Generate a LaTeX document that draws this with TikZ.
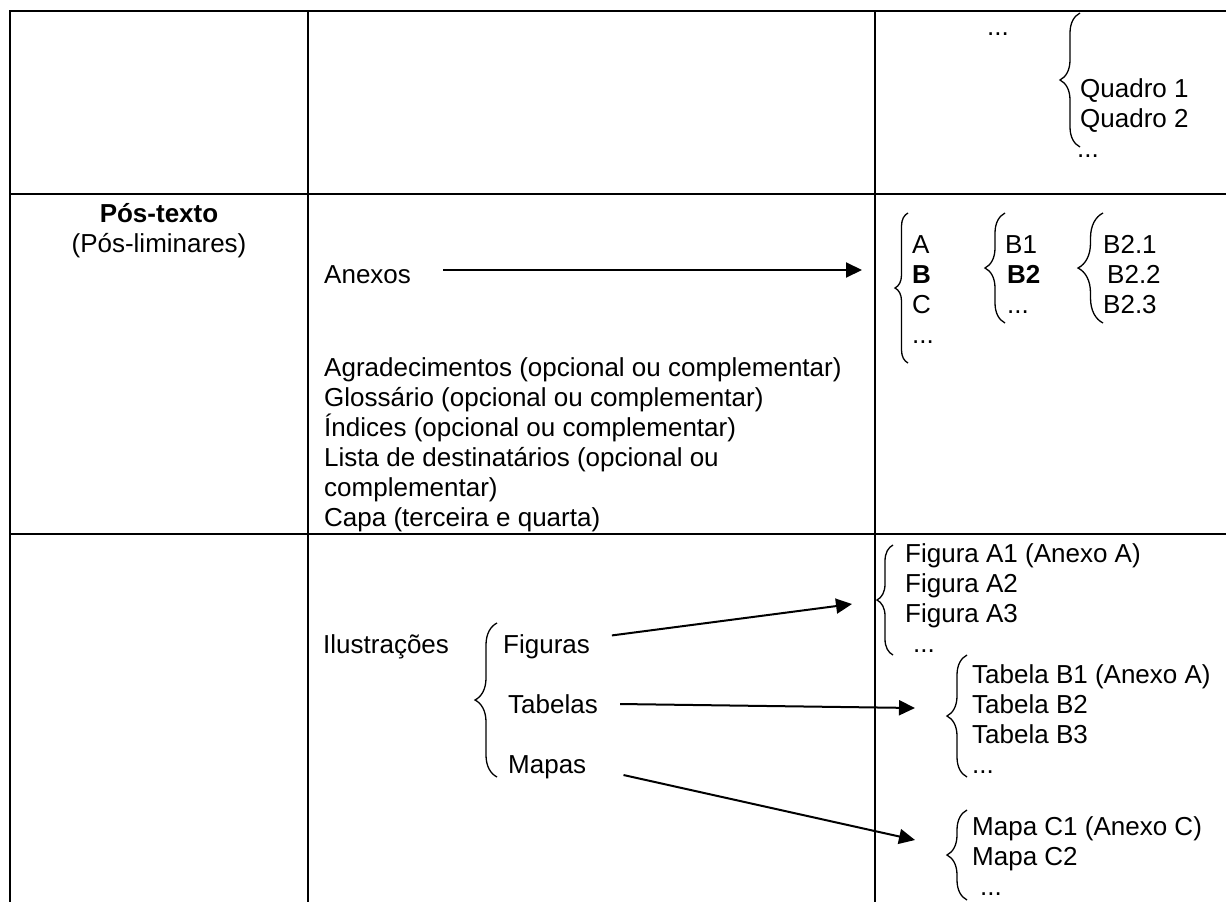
\documentclass[tikz,border=0pt]{standalone}
\usepackage{fontspec}
\setmainfont{Liberation Sans}
\usetikzlibrary{arrows.meta, positioning, decorations.pathreplacing}

\tikzset{
  rule/.style={line width=2pt},
  lbl/.style={inner sep=0pt, anchor=base west},
  curly/.style={decorate, decoration={brace, amplitude=#1}, line width=1.3pt},
  arr/.style={-{Triangle[length=16pt, width=15pt]}, line width=2pt},
}

\begin{document}
\begin{tikzpicture}[x=1pt, y=-1pt, node distance=30pt, font=\fontsize{26}{30}\selectfont]
    \useasboundingbox (0,0) rectangle (1226,902);

    % table
    \draw[rule] (10,902) -- (10,11) -- (1226,11);
    \draw[rule] (10,194) -- (1226,194);
    \draw[rule] (10,534) -- (1226,534);
    \draw[rule] (308,11) -- (308,902);
    \draw[rule] (875,11) -- (875,902);

    % row 1
    \node[lbl] (topdots) at (987,35) {...};
    \draw[curly=20pt] (1080,147) -- (1080,13);
    \node[lbl] (q1) at (1080,97) {Quadro 1};
    \node[lbl, below=of q1.base west, anchor=base west] (q2) {Quadro 2};
    \node[lbl, below=of q2.base west, anchor=base west, xshift=-3pt] (qdots) {...};

    % row 2
    \node[inner sep=0pt, anchor=base] (pos) at (159,222) {\textbf{Pós-texto}};
    \node[inner sep=0pt, below=of pos.base, anchor=base] (posl) {(Pós-liminares)};

    \node[lbl] (anx) at (324,283) {Anexos};
    \coordinate (anxtip) at (862,270);

    \node[lbl] (agr) at (324,376) {Agradecimentos (opcional ou complementar)};
    \node[lbl, below=of agr.base west, anchor=base west] (glo) {Glossário (opcional ou complementar)};
    \node[lbl, below=of glo.base west, anchor=base west] (ind) {Índices (opcional ou complementar)};
    \node[lbl, below=of ind.base west, anchor=base west] (lis) {Lista de destinatários (opcional ou};
    \node[lbl, below=of lis.base west, anchor=base west] (lis2) {complementar)};
    \node[lbl, below=of lis2.base west, anchor=base west] (capa) {Capa (terceira e quarta)};

    \draw[curly=13pt] (908,363) -- (908,213);
    \node[lbl] (la) at (912,253) {A};
    \node[lbl, below=of la.base west, anchor=base west] (lb) {\textbf{B}};
    \node[lbl, below=of lb.base west, anchor=base west] (lc) {C};
    \node[lbl, below=of lc.base west, anchor=base west] (ldots) {...};

    \draw[curly=20pt] (1005,323) -- (1005,213);
    \node[lbl] (b1) at (1005,253) {B1};
    \node[lbl, below=of b1.base west, anchor=base west, xshift=2pt] (b2) {\textbf{B2}};
    \node[lbl, below=of b2.base west, anchor=base west] (bdots) {...};

    \draw[curly=25pt] (1103,323) -- (1103,213);
    \node[lbl] (b21) at (1103,253) {B2.1};
    \node[lbl, below=of b21.base west, anchor=base west, xshift=4pt] (b22) {B2.2};
    \node[lbl, below=of b22.base west, anchor=base west, xshift=-4pt] (b23) {B2.3};

    % row 3
    \node[lbl] (ilu) at (323,653) {Ilustrações};
    \draw[curly=22pt] (497,777) -- (497,623);
    \node[lbl] (figs) at (503,653) {Figuras};
    \node[lbl] (tabs) at (508,713) {Tabelas};
    \node[lbl] (maps) at (508,773) {Mapas};

    \draw[curly=16pt] (893,655) -- (893,545);
    \node[lbl] (fa1) at (905,562) {Figura A1 (Anexo A)};
    \node[lbl, below=of fa1.base west, anchor=base west] (fa2) {Figura A2};
    \node[lbl, below=of fa2.base west, anchor=base west] (fa3) {Figura A3};
    \node[lbl, below=of fa3.base west, anchor=base west, xshift=8pt] (fdots) {...};
    \coordinate (figtip) at (852,604);

    \draw[curly=20pt] (967,777) -- (967,655);
    \node[lbl] (tb1) at (972,683) {Tabela B1 (Anexo A)};
    \node[lbl, below=of tb1.base west, anchor=base west] (tb2) {Tabela B2};
    \node[lbl, below=of tb2.base west, anchor=base west] (tb3) {Tabela B3};
    \node[lbl, below=of tb3.base west, anchor=base west] (tdots) {...};
    \coordinate (tabtip) at (915,708);

    \draw[curly=20pt] (967,900) -- (967,810);
    \node[lbl] (mc1) at (972,835) {Mapa C1 (Anexo C)};
    \node[lbl, below=of mc1.base west, anchor=base west] (mc2) {Mapa C2};
    \node[lbl, below=of mc2.base west, anchor=base west, xshift=8pt] (mdots) {...};
    \coordinate (maptip) at (915,840);

    % arrows
    \path[arr]
        (anx.east |- anxtip) edge[shorten <=32pt] (anxtip)
        ([yshift=8pt]figs.east) edge[shorten <=22pt] (figtip)
        (tabs.east) edge[shorten <=22pt] (tabtip)
        (maps.east) edge[shorten <=38pt] (maptip);

\end{tikzpicture}
\end{document}
